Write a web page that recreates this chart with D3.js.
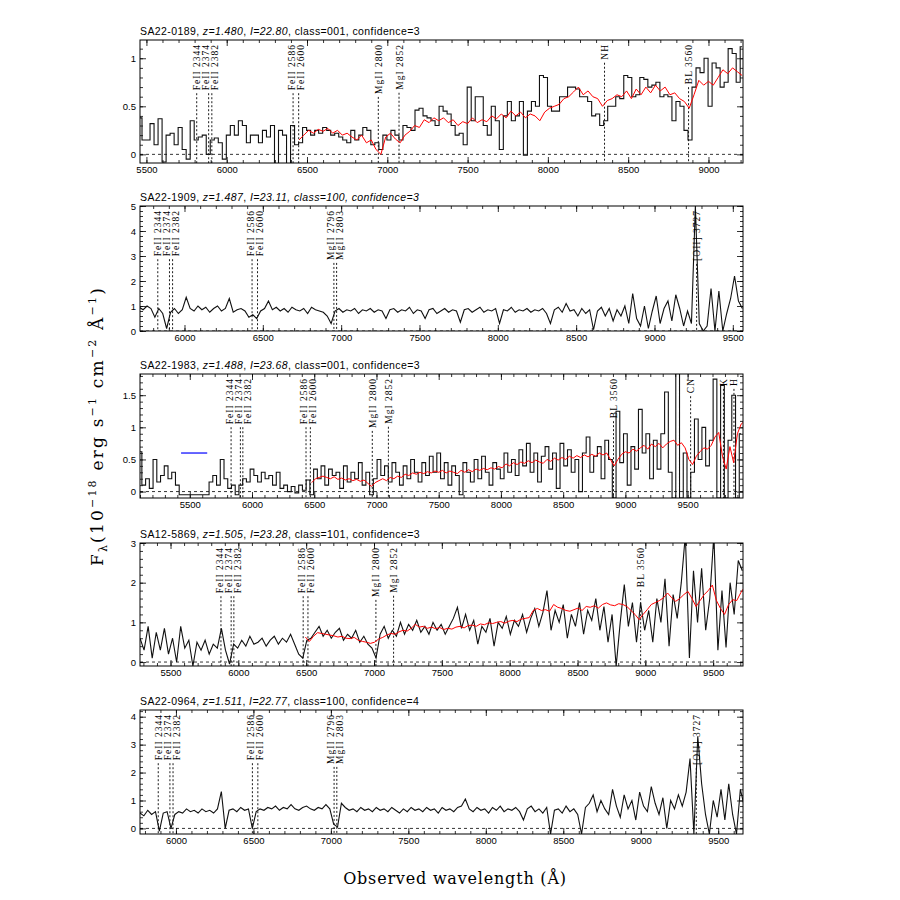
<!DOCTYPE html>
<html lang="en">
<head>
<meta charset="utf-8">
<title>Spectra</title>
<script src="https://cdn.jsdelivr.net/npm/d3@7"></script>
<style>
  body { margin: 0; background: #fff; }
</style>
</head>
<body>
<svg id="chart" width="900" height="900"></svg>
<script>
// ---- panel info
var names = ["SA22-0189", "SA22-1909", "SA22-1983", "SA12-5869", "SA22-0964"];
var zs = [1.480, 1.487, 1.488, 1.505, 1.511];
var mags = ["22.80", "23.11", "23.68", "23.28", "22.77"];
var classes = ["001", "100", "001", "101", "100"];
var confs = [3, 3, 3, 3, 4];

var xDomains = [[5460, 9215], [5716, 9565], [5100, 9945], [5275, 9720], [5768, 9660]];
var yDomains = [[-0.09, 1.19], [0, 5], [-0.1, 1.83], [-0.1, 3.0], [-0.2, 4.24]];
var yTicks = [[0, 0.5, 1], [0, 1, 2, 3, 4, 5], [0, 0.5, 1, 1.5], [0, 1, 2, 3], [0, 1, 2, 3, 4]];
var yMinor = [0.1, 0.2, 0.1, 0.2, 0.2];
var xTicks = [5500, 6000, 6500, 7000, 7500, 8000, 8500, 9000, 9500];

// rest wavelengths of the marked features
var lines1 = [["FeII 2344", 2344], ["FeII 2374", 2374], ["FeII 2382", 2382], ["FeII 2586", 2586], ["FeII 2600", 2600],
              ["MgII 2800", 2800], ["MgI 2852", 2852], ["NH", 3368], ["BL 3560", 3579]];
var lines2 = [["FeII 2344", 2344], ["FeII 2374", 2374], ["FeII 2382", 2382], ["FeII 2586", 2586], ["FeII 2600", 2600],
              ["MgII 2796", 2796], ["MgII 2803", 2803], ["[OII] 3727", 3727]];
var lines3 = [["FeII 2344", 2344], ["FeII 2374", 2374], ["FeII 2382", 2382], ["FeII 2586", 2586], ["FeII 2600", 2600],
              ["MgII 2800", 2800], ["MgI 2852", 2852], ["BL 3560", 3579], ["CN", 3828], ["K", 3934], ["H", 3968]];
var lines4 = [["FeII 2344", 2344], ["FeII 2374", 2374], ["FeII 2382", 2382], ["FeII 2586", 2586], ["FeII 2600", 2600],
              ["MgII 2800", 2800], ["MgI 2852", 2852], ["BL 3560", 3579]];
var lines5 = lines2;

// ---- observed spectra (start wavelength, bin, flux)
var flux1Start = 5460, flux1Step = 25;
var flux1 = [0.38,0.15,0.15,0.32,0.1,0.37,-0.08,0.2,0.22,0.1,0.28,0.05,-0.05,0.35,0.15,0.18,0.2,0.0,0.15,0.17,
  0.12,-0.05,0.2,0.3,0.2,0.35,0.3,0.12,0.2,0.2,0.12,0.25,0.18,0.3,-0.1,0.25,0.2,-0.1,0.3,0.1,
  0.12,0.28,0.25,0.2,0.25,0.22,0.28,0.25,0.2,0.22,0.18,0.15,0.12,0.25,0.15,0.2,0.28,0.25,0.1,0.12,
  0.05,0.2,0.15,0.25,0.2,0.15,0.3,0.28,0.25,0.46,0.48,0.4,0.38,0.35,0.3,0.5,0.45,0.42,0.3,0.2,
  0.22,0.1,0.7,0.35,0.6,0.6,0.3,0.2,0.5,0.35,0.05,0.4,0.55,0.35,0.4,0.55,-0.01,0.45,0.55,0.5,
  0.82,0.8,0.5,0.45,0.45,0.6,0.6,0.7,0.7,0.68,0.6,0.6,0.55,0.4,0.42,0.3,0.35,0.5,0.5,0.6,
  0.58,0.82,0.8,0.6,0.62,0.8,0.78,0.7,0.72,0.75,0.6,0.62,0.6,0.35,0.55,0.5,0.25,0.15,0.7,0.9,
  0.85,1.0,0.5,0.95,0.9,0.7,0.75,1.1,1.05,0.75,1.12];

var flux2Start = 5711, flux2Step = 25;
var flux2 = [0.95,0.85,1.0,0.9,0.55,0.9,0.7,0.1,0.75,0.9,0.7,0.85,1.35,0.9,0.8,1.0,0.85,0.95,0.75,0.9,
  1.0,0.8,0.9,1.3,0.75,0.85,0.9,0.8,0.55,0.65,0.5,0.8,0.9,1.2,0.85,0.95,0.8,0.9,0.75,0.95,
  0.85,0.8,0.9,0.7,0.95,0.85,0.8,0.75,0.6,0.3,0.8,0.9,0.75,0.85,0.8,0.9,0.7,0.85,0.8,0.9,
  0.75,0.85,0.8,0.5,0.85,0.9,0.75,0.85,0.8,0.95,0.7,0.85,0.8,0.5,0.85,0.9,0.7,0.8,0.9,0.75,
  0.85,0.8,0.35,0.85,0.9,0.75,0.85,0.95,0.75,0.85,0.8,0.9,0.3,0.85,0.8,0.95,0.75,0.85,0.8,0.9,
  0.75,0.85,0.8,0.9,0.7,0.3,0.85,0.95,0.75,1.1,0.8,0.85,0.6,0.9,0.7,0.85,0.05,0.8,0.95,0.6,
  0.9,0.4,0.85,0.6,1.0,0.3,1.5,0.5,0.2,1.0,0.1,0.8,1.4,0.3,0.9,1.2,0.4,1.45,0.9,0.2,
  0.8,0.3,5.0,0.3,0.0,0.2,1.7,0.0,1.6,0.0,0.7,1.3,2.2,1.2,0.9];

var flux3Start = 5100, flux3Step = 30;
var flux3 = [0.62,0.1,0.2,0.05,0.5,0.15,0.25,0.4,0.2,0.3,0.1,-0.05,-0.05,-0.05,-0.05,-0.05,-0.05,-0.05,-0.05,0.15,
  0.25,0.1,0.5,0.2,0.05,0.1,-0.05,0.1,0.2,0.15,0.35,0.25,0.15,0.3,0.2,0.25,0.1,0.3,0.05,0.1,
  0.0,0.08,-0.02,0.1,0.02,0.18,-0.05,0.35,0.2,0.4,0.1,0.35,0.25,0.3,0.05,0.4,0.15,0.3,0.2,0.45,
  0.1,0.3,-0.05,0.2,0.5,0.25,0.4,0.15,0.45,0.3,0.1,0.4,0.2,0.5,0.3,0.15,0.45,0.25,0.55,0.3,
  0.6,0.2,0.45,0.1,0.4,0.25,-0.05,0.45,0.3,0.15,0.5,0.2,0.55,0.3,0.1,0.45,0.35,0.2,0.6,0.3,
  0.5,0.25,0.65,0.4,0.75,0.3,0.6,0.15,0.55,0.7,0.35,0.6,0.05,0.75,0.4,0.65,0.3,0.5,0.0,0.6,
  0.85,0.3,0.55,0.7,0.2,0.8,0.5,-0.1,1.25,0.45,0.9,0.1,0.7,0.35,1.28,0.6,0.9,0.2,0.8,0.35,
  0.9,1.55,0.3,-0.1,1.9,-0.1,0.6,-0.1,0.3,1.13,0.5,1.0,0.4,0.8,1.75,-0.1,1.65,-0.1,0.8,1.5,
  -0.1,0.9];

var flux4Start = 5275, flux4Step = 30;
var flux4 = [0.6,0.3,0.9,0.1,0.75,0.3,0.85,0.2,0.6,0.0,0.9,0.35,0.55,-0.1,0.5,0.3,0.55,0.2,0.45,0.35,
  0.85,0.3,-0.05,0.45,0.35,0.55,0.4,0.65,0.45,0.5,0.6,0.4,0.55,0.65,0.45,0.6,0.5,0.7,0.45,0.2,
  0.1,0.55,0.6,0.75,0.9,0.65,0.8,0.6,0.75,0.85,0.55,0.7,0.6,0.8,0.5,0.65,0.45,0.35,0.1,0.7,
  0.9,0.6,0.8,0.65,1.0,0.7,0.95,0.8,1.05,0.75,0.9,0.7,1.0,0.8,0.95,0.7,0.9,1.1,1.38,0.85,
  1.2,0.8,1.05,0.45,0.9,0.75,1.1,0.4,1.0,0.85,1.15,0.7,1.05,0.9,1.2,0.75,1.1,1.35,0.9,1.25,
  1.8,0.8,1.3,1.0,1.45,0.6,1.2,0.9,1.5,0.7,1.3,1.05,1.6,0.8,1.4,0.5,1.2,-0.1,1.0,1.95,
  0.9,1.5,0.5,1.5,0.8,1.3,0.5,1.6,1.0,2.1,0.4,1.7,1.1,2.0,3.2,0.1,2.3,1.0,2.36,0.8,
  1.6,3.2,0.3,1.8,0.37,2.0,1.2,2.56,2.3];

var flux5Start = 5768, flux5Step = 25;
var flux5 = [0.55,0.45,0.65,0.5,0.6,-0.1,0.55,0.6,0.0,0.5,0.6,0.55,0.7,0.6,0.65,0.55,0.7,0.6,0.65,0.55,
  0.7,1.32,0.0,0.65,0.7,0.6,0.75,0.65,0.7,0.0,0.6,0.7,0.65,0.75,0.7,0.8,0.65,0.75,0.7,0.85,
  0.7,0.65,0.75,0.8,0.7,0.65,0.75,0.7,0.85,0.7,0.15,0.05,0.9,0.75,0.65,0.7,0.6,0.75,0.65,0.7,
  0.6,0.75,0.65,0.7,0.6,0.75,0.65,0.55,0.7,0.6,0.75,0.65,0.7,0.6,0.75,0.65,0.7,0.55,0.75,0.65,
  0.7,0.6,0.75,0.8,1.05,0.7,0.6,0.75,0.65,0.7,0.55,0.75,0.65,0.8,0.6,0.7,0.65,0.75,0.6,0.3,
  0.7,0.8,0.6,0.7,0.55,0.75,-0.2,0.65,0.7,0.55,0.8,0.6,0.7,0.5,-0.2,0.75,0.9,1.2,0.6,1.0,
  0.7,0.5,1.4,0.8,0.4,1.2,0.7,1.0,0.3,1.3,0.8,0.6,1.5,0.9,0.5,1.1,0.0,1.0,0.7,1.2,
  0.8,1.3,2.5,-0.2,3.3,1.6,0.5,-0.2,1.0,0.4,1.4,0.3,1.6,0.5,-0.2,1.4,0.8];

// ---- template fits (red)
var model1Start = 6450, model1Step = 30;
var model1 = [0.15,0.2,0.25,0.22,0.26,0.24,0.27,0.22,0.25,0.2,0.22,0.18,0.15,0.2,0.12,0.15,0.05,0.0,0.18,0.22,
  0.16,0.12,0.2,0.24,0.3,0.28,0.36,0.33,0.38,0.35,0.38,0.33,0.36,0.3,0.34,0.32,0.38,0.33,0.36,0.34,
  0.4,0.37,0.42,0.38,0.45,0.4,0.44,0.38,0.42,0.4,0.35,0.44,0.48,0.5,0.52,0.58,0.6,0.65,0.7,0.62,
  0.66,0.6,0.58,0.5,0.56,0.58,0.62,0.6,0.66,0.58,0.68,0.62,0.7,0.64,0.72,0.66,0.7,0.62,0.64,0.58,
  0.55,0.48,0.62,0.77,0.72,0.76,0.72,0.8,0.88,0.84,0.9,0.86,0.82];

var model3Start = 6480, model3Step = 30;
var model3 = [0.14,0.2,0.22,0.24,0.22,0.2,0.23,0.19,0.21,0.18,0.2,0.17,0.19,0.16,0.18,0.13,0.08,0.14,0.17,0.2,
  0.17,0.22,0.2,0.24,0.22,0.27,0.25,0.29,0.27,0.3,0.28,0.31,0.29,0.32,0.3,0.33,0.29,0.32,0.3,0.28,
  0.33,0.3,0.34,0.31,0.35,0.33,0.36,0.34,0.37,0.35,0.39,0.37,0.43,0.4,0.45,0.42,0.46,0.44,0.48,0.45,
  0.49,0.46,0.44,0.5,0.47,0.52,0.49,0.53,0.5,0.55,0.52,0.56,0.53,0.57,0.54,0.58,0.55,0.6,0.57,0.6,
  0.5,0.4,0.5,0.58,0.62,0.6,0.66,0.63,0.68,0.72,0.66,0.74,0.7,0.75,0.68,0.74,0.78,0.8,0.72,0.76,
  0.68,0.5,0.42,0.55,0.62,0.68,0.66,0.72,0.85,0.92,0.55,0.35,0.7,0.45,0.9,1.05,1.1];

var model4Start = 6494, model4Step = 30;
var model4 = [0.63,0.52,0.65,0.74,0.72,0.7,0.68,0.66,0.63,0.65,0.6,0.59,0.62,0.55,0.52,0.5,0.47,0.5,0.58,0.62,
  0.68,0.72,0.7,0.76,0.8,0.78,0.85,0.95,0.88,0.9,0.85,0.88,0.84,0.87,0.82,0.85,0.83,0.88,0.9,0.86,
  0.92,0.93,0.9,0.96,0.94,0.99,0.97,1.0,1.02,0.98,1.03,1.05,1.02,1.08,1.1,1.12,1.3,1.35,1.3,1.32,
  1.28,1.45,1.38,1.35,1.3,1.28,1.32,1.36,1.3,1.4,1.38,1.42,1.36,1.45,1.49,1.44,1.42,1.47,1.45,1.4,
  1.3,1.2,1.07,1.2,1.32,1.45,1.5,1.55,1.62,1.74,1.62,1.53,1.6,1.7,1.78,1.6,1.4,1.55,1.7,1.8,
  1.94,1.55,1.35,1.2,1.45,1.57,1.55,1.75,1.9];

// short blue bar in the third panel
var blueWave = [5430, 5640];
var blueFlux = [0.6, 0.6];

// ---- layout
var svg = d3.select("#chart");
var L = 140, R = 743;
var tops = [40, 206, 374, 543, 710];
var bottoms = [163, 331, 498, 666, 834];
var SANS = "Liberation Sans, sans-serif", SERIF = "DejaVu Serif, serif";

function series(start, step, vals) {
  return vals.map(function(v, i) { return [start + i * step, v]; });
}

var panels = [
  { flux: series(flux1Start, flux1Step, flux1), model: series(model1Start, model1Step, model1), lines: lines1, italicAll: false, curve: d3.curveStep },
  { flux: series(flux2Start, flux2Step, flux2), model: null, lines: lines2, italicAll: true, curve: d3.curveLinear },
  { flux: series(flux3Start, flux3Step, flux3), model: series(model3Start, model3Step, model3), lines: lines3, italicAll: false, curve: d3.curveStep },
  { flux: series(flux4Start, flux4Step, flux4), model: series(model4Start, model4Step, model4), lines: lines4, italicAll: false, curve: d3.curveLinear },
  { flux: series(flux5Start, flux5Step, flux5), model: null, lines: lines5, italicAll: false, curve: d3.curveLinear }
];

function spread(xs, gap) {
  var pos = xs.slice();
  for (var it = 0; it < 40; it++) {
    for (var i = 1; i < pos.length; i++) {
      var d = pos[i] - pos[i - 1];
      if (d < gap) { var s = (gap - d) / 2; pos[i - 1] -= s; pos[i] += s; }
    }
  }
  return pos;
}

panels.forEach(function(p, k) {
  var top = tops[k], bot = bottoms[k];
  var x = d3.scaleLinear().domain(xDomains[k]).range([L, R]);
  var y = d3.scaleLinear().domain(yDomains[k]).range([bot, top]);
  var g = svg.append("g");

  g.append("clipPath").attr("id", "clip" + k)
    .append("rect").attr("x", L).attr("y", top).attr("width", R - L).attr("height", bot - top);

  // title
  var t = g.append("text").attr("x", L).attr("y", top - 5)
    .attr("font-family", SANS).attr("font-size", 10.5).attr("letter-spacing", 0.4).attr("fill", "#000");
  t.append("tspan").text(names[k] + ", ");
  t.append("tspan").attr("font-style", "italic").text("z=" + zs[k].toFixed(3));
  t.append("tspan").text(", ");
  t.append("tspan").attr("font-style", "italic").text("I=" + mags[k]);
  t.append("tspan").attr("font-style", p.italicAll ? "italic" : "normal")
    .text(", class=" + classes[k] + ", confidence=" + confs[k]);

  // axes, ticks inside the box
  var xt = xTicks.filter(function(v) { return v >= xDomains[k][0] && v <= xDomains[k][1]; });
  var xm = d3.range(5100, 10000, 100).filter(function(v) { return v >= xDomains[k][0] && v <= xDomains[k][1]; });
  var ym = d3.range(0, yDomains[k][1] + 1e-6, yMinor[k]);

  function style(sel) {
    sel.select(".domain").remove();
    sel.selectAll("line").attr("stroke", "#000").attr("stroke-width", 0.8);
    sel.attr("font-family", SANS).attr("font-size", 9.5);
  }

  g.append("g").attr("transform", "translate(0," + bot + ")")
    .call(d3.axisBottom(x).tickValues(xt).tickSizeInner(-6).tickSizeOuter(0).tickPadding(3).tickFormat(d3.format("d"))).call(style);
  g.append("g").attr("transform", "translate(0," + bot + ")")
    .call(d3.axisBottom(x).tickValues(xm).tickSizeInner(-3).tickSizeOuter(0).tickFormat("")).call(style);
  g.append("g").attr("transform", "translate(0," + top + ")")
    .call(d3.axisTop(x).tickValues(xt).tickSizeInner(-6).tickSizeOuter(0).tickFormat("")).call(style);
  g.append("g").attr("transform", "translate(0," + top + ")")
    .call(d3.axisTop(x).tickValues(xm).tickSizeInner(-3).tickSizeOuter(0).tickFormat("")).call(style);
  g.append("g").attr("transform", "translate(" + L + ",0)")
    .call(d3.axisLeft(y).tickValues(yTicks[k]).tickSizeInner(-6).tickSizeOuter(0).tickPadding(4).tickFormat(d3.format("~g"))).call(style);
  g.append("g").attr("transform", "translate(" + L + ",0)")
    .call(d3.axisLeft(y).tickValues(ym).tickSizeInner(-3).tickSizeOuter(0).tickFormat("")).call(style);
  g.append("g").attr("transform", "translate(" + R + ",0)")
    .call(d3.axisRight(y).tickValues(yTicks[k]).tickSizeInner(-6).tickSizeOuter(0).tickFormat("")).call(style);
  g.append("g").attr("transform", "translate(" + R + ",0)")
    .call(d3.axisRight(y).tickValues(ym).tickSizeInner(-3).tickSizeOuter(0).tickFormat("")).call(style);

  var plot = g.append("g").attr("clip-path", "url(#clip" + k + ")");

  // zero level
  plot.append("line").attr("x1", L).attr("x2", R).attr("y1", y(0)).attr("y2", y(0))
    .attr("stroke", "#000").attr("stroke-width", 0.8).attr("stroke-dasharray", "3,3");

  // marked features
  var obs = p.lines.map(function(d) { return x(d[1] * (1 + zs[k])); });
  var lab = spread(obs, 9);
  p.lines.forEach(function(d, i) {
    var txt = g.append("text")
      .attr("transform", "translate(" + (lab[i] + 3.5) + "," + (top + 4) + ") rotate(-90)")
      .attr("text-anchor", "end")
      .attr("font-family", "Liberation Serif, serif").attr("font-size", 9.5).attr("letter-spacing", 1)
      .text(d[0]);
    var len = txt.node().getComputedTextLength();
    plot.append("line").attr("x1", obs[i]).attr("x2", obs[i])
      .attr("y1", top + 4 + len + 3).attr("y2", bot)
      .attr("stroke", "#000").attr("stroke-width", 0.9).attr("stroke-dasharray", "2,2");
  });

  var line = d3.line().x(function(d) { return x(d[0]); }).y(function(d) { return y(d[1]); }).curve(p.curve);
  plot.append("path").attr("d", line(p.flux))
    .attr("fill", "none").attr("stroke", "#111").attr("stroke-width", 1.1);

  if (p.model) {
    var mline = d3.line().x(function(d) { return x(d[0]); }).y(function(d) { return y(d[1]); });
    plot.append("path").attr("d", mline(p.model))
      .attr("fill", "none").attr("stroke", "#ff0000").attr("stroke-width", 1);
  }

  if (k === 2) {
    plot.append("line").attr("x1", x(blueWave[0])).attr("x2", x(blueWave[1]))
      .attr("y1", y(blueFlux[0])).attr("y2", y(blueFlux[1]))
      .attr("stroke", "#3333ff").attr("stroke-width", 1.5);
  }

  g.append("rect").attr("x", L).attr("y", top).attr("width", R - L).attr("height", bot - top)
    .attr("fill", "none").attr("stroke", "#000").attr("stroke-width", 1);
});

// axis titles
svg.append("text").attr("x", 455).attr("y", 884).attr("text-anchor", "middle")
  .attr("font-family", SERIF).attr("font-size", 16).attr("letter-spacing", 0.8)
  .text("Observed wavelength (Å)");

var yl = svg.append("text").attr("transform", "translate(103,426) rotate(-90)")
  .attr("text-anchor", "middle").attr("font-family", SERIF)
  .attr("font-size", 17).attr("letter-spacing", 2.2);
yl.append("tspan").text("F");
yl.append("tspan").attr("font-size", 11).attr("dy", 4).text("λ");
yl.append("tspan").attr("dy", -4).text("(10");
yl.append("tspan").attr("font-size", 11).attr("dy", -7).text("−18");
yl.append("tspan").attr("dy", 7).text(" erg s");
yl.append("tspan").attr("font-size", 11).attr("dy", -7).text("−1");
yl.append("tspan").attr("dy", 7).text(" cm");
yl.append("tspan").attr("font-size", 11).attr("dy", -7).text("−2");
yl.append("tspan").attr("dy", 7).text(" Å");
yl.append("tspan").attr("font-size", 11).attr("dy", -7).text("−1");
yl.append("tspan").attr("dy", 7).text(")");
</script>
</body>
</html>
